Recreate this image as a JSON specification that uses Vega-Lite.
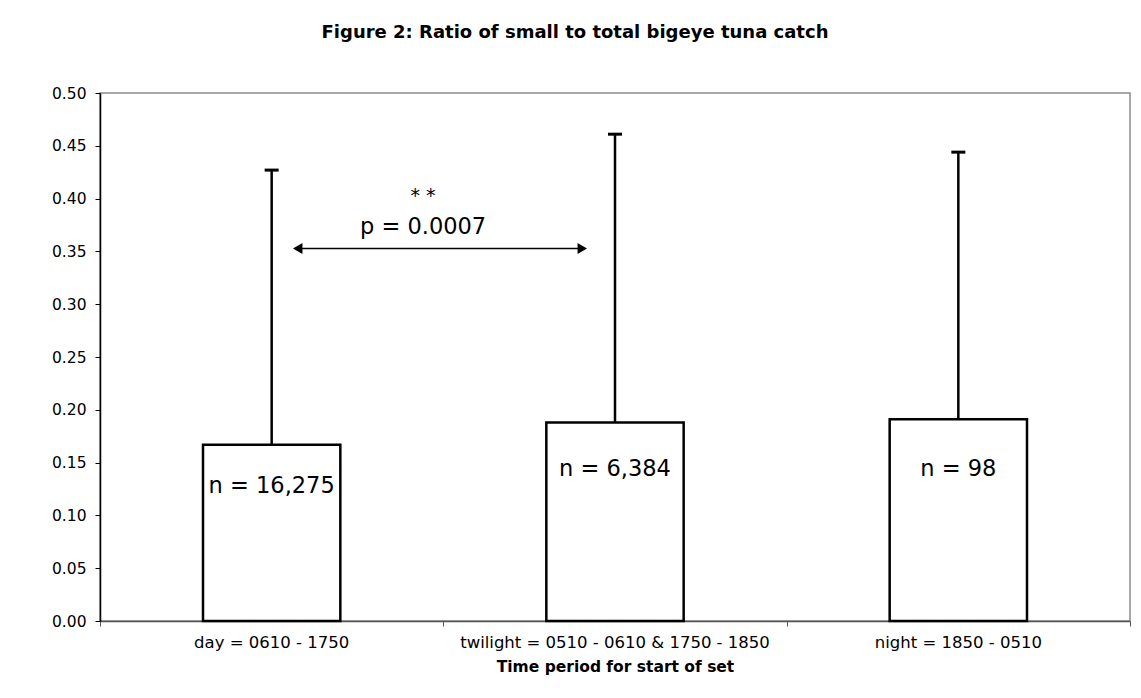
{
  "$schema": "https://vega.github.io/schema/vega-lite/v6.json",
  "autosize": "none",
  "width": 1030,
  "height": 528,
  "padding": {"left": 100, "top": 93, "right": 11, "bottom": 77},
  "background": "white",
  "title": {
    "text": "Figure 2: Ratio of small to total bigeye tuna catch",
    "fontSize": 18,
    "fontWeight": "bold",
    "color": "black",
    "anchor": "middle",
    "frame": "group",
    "dx": -40,
    "offset": 44
  },
  "config": {
    "font": "DejaVu Sans",
    "view": {"stroke": "#8c8c8c", "strokeWidth": 1.5}
  },
  "layer": [
    {
      "data": {
        "values": [
          {"period": "day = 0610 - 1750", "ratio": 0.167, "upper": 0.427, "n": "n = 16,275"},
          {"period": "twilight = 0510 - 0610 & 1750 - 1850", "ratio": 0.188, "upper": 0.461, "n": "n = 6,384"},
          {"period": "night = 1850 - 0510", "ratio": 0.191, "upper": 0.444, "n": "n = 98"}
        ]
      },
      "encoding": {
        "x": {
          "field": "period",
          "type": "nominal",
          "sort": null,
          "scale": {"paddingInner": 0, "paddingOuter": 0},
          "axis": {
            "title": "Time period for start of set",
            "titleFontSize": 15.5,
            "titleFontWeight": "bold",
            "titleColor": "black",
            "titlePadding": 9,
            "labelAngle": 0,
            "labelFontSize": 16.5,
            "labelColor": "black",
            "labelPadding": 13,
            "labelLimit": 0,
            "ticks": false,
            "tickSize": 0,
            "domainColor": "#555555",
            "domainWidth": 1.5
          }
        },
        "y": {
          "type": "quantitative",
          "scale": {"domain": [0, 0.5], "nice": false},
          "axis": {
            "title": null,
            "values": [0, 0.05, 0.1, 0.15, 0.2, 0.25, 0.3, 0.35, 0.4, 0.45, 0.5],
            "format": ".2f",
            "grid": false,
            "labelFontSize": 15.5,
            "labelColor": "black",
            "labelPadding": 9,
            "tickSize": 5,
            "tickColor": "black",
            "domainColor": "black",
            "domainWidth": 1.5
          }
        }
      },
      "layer": [
        {
          "mark": {"type": "rule", "stroke": "black", "strokeWidth": 2.5},
          "encoding": {"y": {"field": "ratio"}, "y2": {"field": "upper"}}
        },
        {
          "mark": {"type": "tick", "color": "black", "opacity": 1, "size": 14, "thickness": 3, "orient": "horizontal"},
          "encoding": {"y": {"field": "upper"}}
        },
        {
          "mark": {"type": "bar", "fill": "white", "stroke": "black", "strokeWidth": 2.5, "width": {"band": 0.4}},
          "encoding": {"y": {"field": "ratio"}}
        },
        {
          "transform": [{"filter": "datum.period == 'day = 0610 - 1750'"}],
          "mark": {"type": "text", "fontSize": 22.5, "color": "black"},
          "encoding": {"y": {"datum": 0.128}, "text": {"field": "n"}}
        },
        {
          "transform": [{"filter": "datum.period != 'day = 0610 - 1750'"}],
          "mark": {"type": "text", "fontSize": 22.5, "color": "black"},
          "encoding": {"y": {"datum": 0.144}, "text": {"field": "n"}}
        }
      ]
    },
    {
      "data": {"values": [{}]},
      "layer": [
        {
          "mark": {"type": "rule", "stroke": "black", "strokeWidth": 1.5},
          "encoding": {
            "x": {
              "datum": 0.57,
              "type": "quantitative",
              "scale": {"domain": [0, 3], "nice": false},
              "axis": {
                "orient": "bottom",
                "title": null,
                "values": [0, 1, 2, 3],
                "labels": false,
                "domain": false,
                "grid": false,
                "tickSize": 5,
                "tickColor": "#555555",
                "tickWidth": 1
              }
            },
            "x2": {"datum": 1.41},
            "y": {"datum": 0.3527}
          }
        },
        {
          "mark": {"type": "point", "shape": "triangle-left", "filled": true, "color": "black", "size": 120, "opacity": 1},
          "encoding": {"x": {"datum": 0.5758, "type": "quantitative"}, "y": {"datum": 0.3527}}
        },
        {
          "mark": {"type": "point", "shape": "triangle-right", "filled": true, "color": "black", "size": 120, "opacity": 1},
          "encoding": {"x": {"datum": 1.4047, "type": "quantitative"}, "y": {"datum": 0.3527}}
        },
        {
          "mark": {"type": "text", "fontSize": 22.5, "color": "black"},
          "encoding": {"x": {"datum": 0.941, "type": "quantitative"}, "y": {"datum": 0.3728}, "text": {"value": "p = 0.0007"}}
        },
        {
          "mark": {"type": "text", "fontSize": 19, "color": "black"},
          "encoding": {"x": {"datum": 0.941, "type": "quantitative"}, "y": {"datum": 0.402}, "text": {"value": "* *"}}
        }
      ]
    }
  ],
  "resolve": {"scale": {"x": "independent"}, "axis": {"x": "independent"}}
}
